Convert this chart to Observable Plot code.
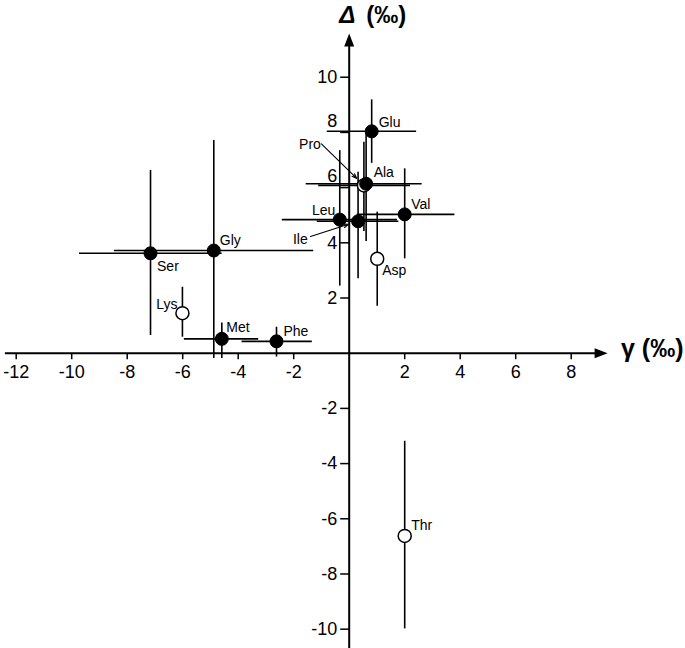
<!DOCTYPE html>
<html><head><meta charset="utf-8">
<script src="https://cdn.jsdelivr.net/npm/d3@7"></script>
<script src="https://cdn.jsdelivr.net/npm/@observablehq/plot@0.6"></script>
<style>
html,body{margin:0;padding:0;background:#fff;}
svg{display:block;}
</style>
</head><body><div id="chart"></div>
<script>
// ---- data ----
const names    = ["Glu","Pro","Ala","Leu","Ile","Val","Asp","Gly","Ser","Lys","Met","Phe","Thr"];
const gamma    = [0.81, 0.53, 0.61, -0.34, 0.32, 2.00, 1.01, -4.88, -7.16, -6.01, -4.59, -2.62, 2.00];
const delta    = [8.04, 6.08, 6.14, 4.84, 4.78, 5.03, 3.42, 3.72, 3.62, 1.45, 0.52, 0.43, -6.62];
const deltaLo  = [6.88, 4.41, 4.05, 2.43, 2.70, 3.42, 1.70, -0.19, 0.64, 0.58, -0.19, -0.14, -9.99];
const deltaHi  = [9.18, 7.64, 8.01, 7.34, 6.56, 6.68, 5.11, 7.71, 6.62, 2.39, 1.09, 0.94, -3.19];
const gammaLo  = [-0.79, -1.10, -1.55, -2.41, -1.15, 0.29, null, -8.46, -9.72, null, -5.94, -3.86, null];
const gammaHi  = [2.43, 2.21, 2.63, 1.74, 1.79, 3.81, null, -1.28, -4.58, null, -3.26, -1.33, null];
const isOpen   = [false, true, false, false, false, false, true, false, false, true, false, false, true];
const xTicks   = [-12, -10, -8, -6, -4, -2, 2, 4, 6, 8];
const yTicks   = [-10, -8, -6, -4, -2, 2, 4, 6, 8, 10];
const xTitle   = "γ (‰)";
const yTitleSym = "Δ";
const yTitleUnit = "(‰)";

// ---- layout ----
const W = 685, H = 648;
const xDom = [-12.566, 12.119];
const yDom = [-10.70, 12.78];
const kx = W / (xDom[1] - xDom[0]);
const ky = H / (yDom[1] - yDom[0]);
const xAxisExt = [-12.39, 8.88];
const yAxisExt = [-10.70, 11.15];
const FONT = "'Liberation Sans', Arial, Helvetica, sans-serif";

const data = names.map((name, i) => ({
  name, g: gamma[i], d: delta[i], dlo: deltaLo[i], dhi: deltaHi[i],
  glo: gammaLo[i], ghi: gammaHi[i], open: isOpen[i]
}));

// label placement: [dx px, baseline dy px, anchor]
const labelPlace = {
  Glu: [7, -4, "start"], Ala: [7.5, -7, "start"], Val: [6.5, -5.5, "start"],
  Leu: [-4.5, -5, "end"], Gly: [6, -6, "start"], Ser: [6.5, 18, "start"],
  Lys: [-5, -4.5, "end"], Met: [4.5, -7, "start"], Phe: [7, -5, "start"],
  Asp: [5, 16.5, "start"], Thr: [6.5, -5.5, "start"],
  Pro: [-43, -36.5, "end"], Ile: [-50.3, 23.2, "end"]
};
const pointerStart = { Pro: [-42.5, -41.5], Ile: [-47.6, 15.2] };

const lab = (a) => data.filter(d => labelPlace[d.name][2] === a);
const lx = d => d.g + labelPlace[d.name][0] / kx;
const ly = d => d.d - labelPlace[d.name][1] / ky;

// custom symbols
const arrowRight = {draw(c, size){ const s = Math.sqrt(size/Math.PI)/12;
  c.moveTo(-1*s, -5*s); c.lineTo(12*s, 0); c.lineTo(-1*s, 5*s); c.closePath(); }};
const arrowUp = {draw(c, size){ const s = Math.sqrt(size/Math.PI)/12;
  c.moveTo(-5*s, 1*s); c.lineTo(0, -12*s); c.lineTo(5*s, 1*s); c.closePath(); }};
const tickDown = {draw(c, size){ const r = Math.sqrt(size/Math.PI);
  c.moveTo(0, 0); c.lineTo(0, r); }};
const tickLeft = {draw(c, size){ const r = Math.sqrt(size/Math.PI);
  c.moveTo(0, 0); c.lineTo(-r, 0); }};

const hasH = data.filter(d => d.glo != null);
const ptr = data.filter(d => pointerStart[d.name]);

const chart = Plot.plot({
  width: W, height: H,
  marginTop: 0, marginRight: 0, marginBottom: 0, marginLeft: 0,
  x: {domain: xDom, axis: null},
  y: {domain: yDom, axis: null},
  style: {fontFamily: FONT, background: "white", color: "black"},
  marks: [
    // axes
    Plot.ruleY([0], {x1: xAxisExt[0], x2: xAxisExt[1], stroke: "black", strokeWidth: 2}),
    Plot.ruleX([0], {y1: yAxisExt[0], y2: yAxisExt[1], stroke: "black", strokeWidth: 2}),
    Plot.dot([0], {x: () => xAxisExt[1], y: () => 0, symbol: arrowRight, r: 12, fill: "black", stroke: "none"}),
    Plot.dot([0], {x: () => 0, y: () => yAxisExt[1], symbol: arrowUp, r: 12, fill: "black", stroke: "none"}),
    Plot.dot(xTicks, {x: d => d, y: () => 0, symbol: tickDown, r: 6, stroke: "black", strokeWidth: 1.5, fill: "none"}),
    Plot.dot(yTicks, {x: () => 0, y: d => d, symbol: tickLeft, r: 9, stroke: "black", strokeWidth: 1.5, fill: "none"}),
    Plot.text(xTicks, {x: d => d, y: () => 0, text: d => String(d), dy: 12, lineAnchor: "top", fontSize: 18, fill: "black"}),
    Plot.text(yTicks.filter(v => v !== 6 && v !== 8), {x: () => 0, y: d => d, text: d => String(d), textAnchor: "end", dx: -12, fontSize: 18, fill: "black"}),
    Plot.text(yTicks.filter(v => v === 6 || v === 8), {x: () => 0, y: d => d, text: d => String(d), textAnchor: "end", dx: -12, dy: -11, fontSize: 18, fill: "black"}),
    // titles
    Plot.text([xTitle], {frameAnchor: "right", y: () => 0, text: d => d, textAnchor: "end", lineAnchor: "bottom", dx: -2, dy: 4, fontSize: 25, fontWeight: "bold", fill: "black"}),
    Plot.text([yTitleSym], {frameAnchor: "top", x: () => 0, text: d => d, textAnchor: "start", lineAnchor: "bottom", dx: -10, dy: 22, fontSize: 24, fontWeight: "bold", fontStyle: "italic", fill: "black"}),
    Plot.text([yTitleUnit], {frameAnchor: "top", x: () => 0, text: d => d, textAnchor: "start", lineAnchor: "bottom", dx: 17, dy: 22, fontSize: 24, fontWeight: "bold", fill: "black"}),
    // error bars
    Plot.ruleX(data, {x: "g", y1: "dlo", y2: "dhi", stroke: "black", strokeWidth: 1.6}),
    Plot.ruleY(hasH, {y: "d", x1: "glo", x2: "ghi", stroke: "black", strokeWidth: 1.6}),
    // points
    Plot.dot(data.filter(d => d.open), {x: "g", y: "d", r: 6.5, fill: "white", stroke: "black", strokeWidth: 1.5}),
    Plot.dot(data.filter(d => !d.open), {x: "g", y: "d", r: 6.5, fill: "black", stroke: "black", strokeWidth: 1}),
    // pointers
    Plot.arrow(ptr, {x1: d => d.g + pointerStart[d.name][0] / kx, y1: d => d.d - pointerStart[d.name][1] / ky,
      x2: "g", y2: "d", insetEnd: 10, headLength: 7, headAngle: 40, stroke: "black", strokeWidth: 1.1}),
    // labels
    Plot.text(lab("start"), {x: lx, y: ly, text: "name", textAnchor: "start", lineAnchor: "bottom", fontSize: 14, fill: "black"}),
    Plot.text(lab("end"), {x: lx, y: ly, text: "name", textAnchor: "end", lineAnchor: "bottom", fontSize: 14, fill: "black"})
  ]
});
document.getElementById("chart").appendChild(chart);
</script>
</body></html>
